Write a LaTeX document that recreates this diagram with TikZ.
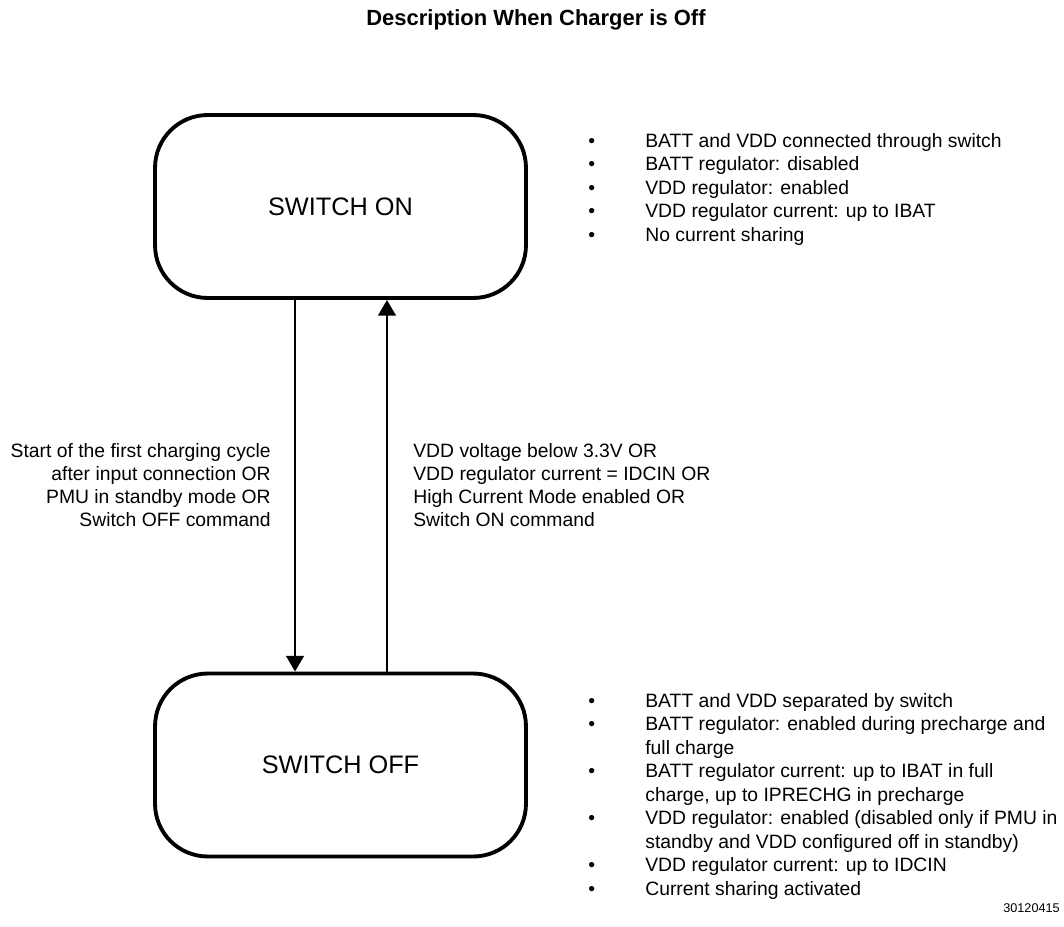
\documentclass[tikz,border=0pt]{standalone}
\usepackage{fontspec}
\setmainfont{Liberation Sans}
\usetikzlibrary{
  arrows.meta,
  positioning
}
\tikzset{
  statebox/.style={
    draw, line width=2.2pt, rounded corners=30pt, inner sep=0pt,
    minimum width=7.42cm, minimum height=3.66cm,
    font=\fontsize{14.4}{17}\selectfont
  },
  transition/.style={-{Triangle[length=9pt, width=10pt]}, line width=1.6pt},
  condtext/.style={font=\fontsize{11}{13.1}\selectfont, inner sep=0pt},
  notelist/.style={font=\fontsize{11}{13.4}\selectfont, inner sep=0pt, anchor=base west},
  figtitle/.style={font=\fontsize{12.5}{15}\selectfont\bfseries, inner sep=0pt, anchor=base},
  figno/.style={font=\fontsize{7.2}{9}\selectfont, inner sep=0pt, anchor=base east}
}

\begin{document}
\begin{tikzpicture}[x=0.02cm, y=-0.02cm]
  \useasboundingbox (0,0) rectangle (1064,926);
  \node[figtitle] (title) at (536,26) {Description When Charger is Off};

  % the two states
  \node[statebox] (on) at (340.5,206.5) {SWITCH ON};
  \node[statebox] (off) at (340.5,765) {SWITCH OFF};

  % transitions
  \coordinate (dn) at (295,0);
  \coordinate (up) at (387,0);
  \draw[transition] (on.south -| dn) -- (off.north -| dn);
  \draw[transition] (off.north -| up) -- (on.south -| up);

  \node[condtext, anchor=base east] (tooff) at (271,457) {\begin{tabular}[t]{@{}r@{}}
    Start of the first charging cycle\\
    after input connection OR\\
    PMU in standby mode OR\\
    Switch OFF command
  \end{tabular}};
  \node[condtext, anchor=base west] (toon) at (413,457) {\begin{tabular}[t]{@{}l@{}}
    VDD voltage below 3.3V OR\\
    VDD regulator current = IDCIN OR\\
    High Current Mode enabled OR\\
    Switch ON command
  \end{tabular}};

  % state notes
  \node[notelist] (onnotes) at (588,147) {\begin{tabular}[t]{@{}p{1.14cm}@{}l@{}}
    \textbullet & BATT and VDD connected through switch\\
    \textbullet & BATT regulator: disabled\\
    \textbullet & VDD regulator: enabled\\
    \textbullet & VDD regulator current: up to IBAT\\
    \textbullet & No current sharing
  \end{tabular}};
  \node[notelist] (offnotes) at (588,707) {\begin{tabular}[t]{@{}p{1.14cm}@{}l@{}}
    \textbullet & BATT and VDD separated by switch\\
    \textbullet & BATT regulator: enabled during precharge and\\
                & full charge\\
    \textbullet & BATT regulator current: up to IBAT in full\\
                & charge, up to IPRECHG in precharge\\
    \textbullet & VDD regulator: enabled (disabled only if PMU in\\
                & standby and VDD configured off in standby)\\
    \textbullet & VDD regulator current: up to IDCIN\\
    \textbullet & Current sharing activated
  \end{tabular}};

  \node[figno] (figid) at (1060,912) {30120415};
\end{tikzpicture}
\end{document}
